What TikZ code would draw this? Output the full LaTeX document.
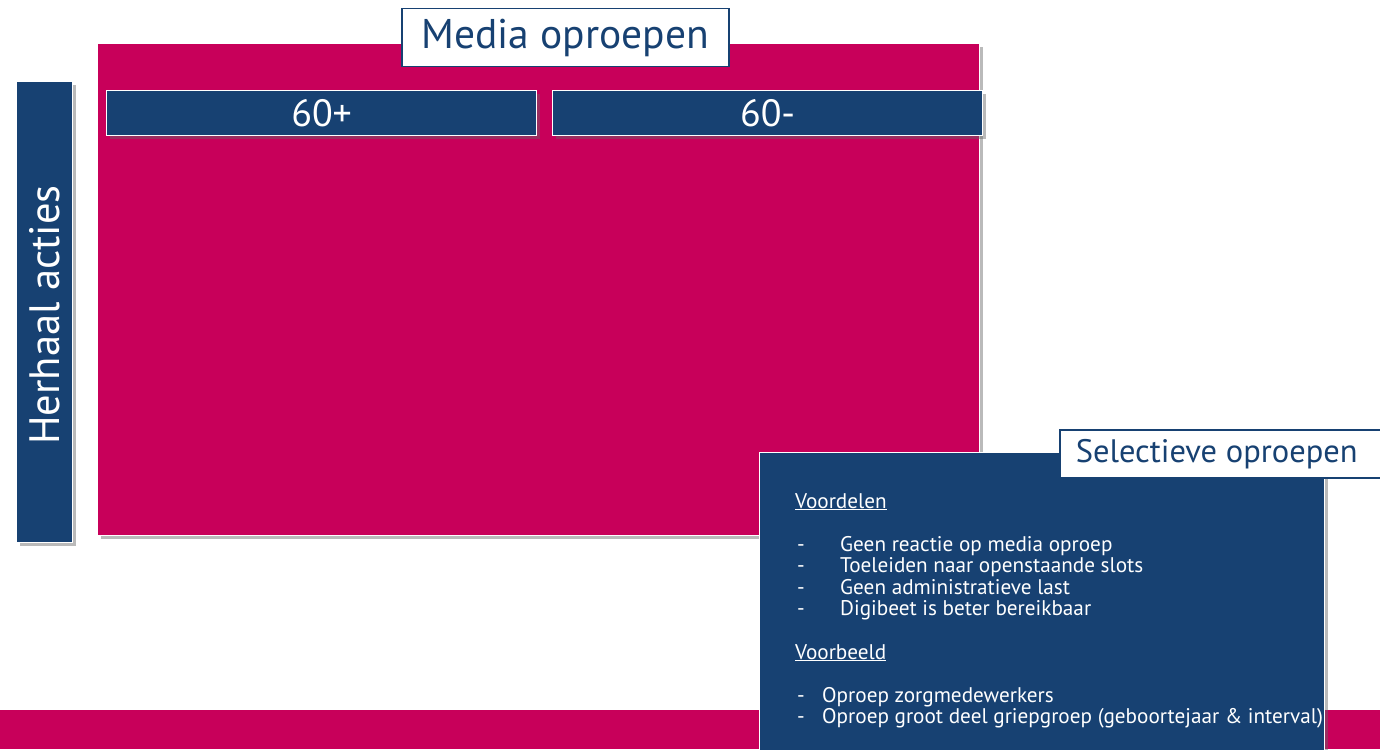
\documentclass[tikz,border=0pt]{standalone}
\usepackage{fontspec}
\setmainfont{PT Sans}
\usepackage{tikz}
\usetikzlibrary{positioning}
\usetikzlibrary{shadows}
\definecolor{rodeband}{HTML}{C8005A}
\definecolor{donkerblauw}{HTML}{174172}
\tikzset{my_shadow/.style={drop shadow={shadow xshift=3pt, shadow yshift=-3pt, opacity=0.45, fill=black!60}}}
\tikzset{my_panel/.style={rectangle, anchor=north west, inner sep=0pt, draw=white, line width=1.2pt, my_shadow}}
\tikzset{my_header/.style={rectangle, anchor=north west, inner sep=0pt, fill=white, draw=donkerblauw, line width=1.5pt, text=donkerblauw}}
\tikzset{my_agebox/.style={my_panel, fill=donkerblauw, text=white, font=\fontsize{38}{38}\selectfont}}
\tikzset{my_line/.style={anchor=base west, inner sep=0pt, text=white, font=\fontsize{21.2}{21.2}\selectfont}}

\begin{document}
\begin{tikzpicture}[x=1pt, y=-1pt]
    \useasboundingbox (0,0) rectangle (1380,749);
    %\draw[help lines, step=50] (0,0) grid (1380,749);
    \fill[rodeband] (0,710) rectangle (1380,749);

    \node[my_panel, fill=rodeband, minimum width=882pt, minimum height=492pt] (media) at (97,43) {};
    \node[my_header, minimum width=327pt, minimum height=58pt,
          font=\fontsize{41.5}{41.5}\selectfont] (mediatitle) at (401,8) {Media oproepen};

    \node[my_agebox, minimum width=430pt, minimum height=45pt] (plus) at (106,90) {60+};
    \node[my_agebox, minimum width=430pt, minimum height=45pt] (min) at (552,90) {60-};

    \node[my_panel, fill=donkerblauw, minimum width=56pt, minimum height=461pt] (herhaal) at (16,81) {};
    \node[rotate=90, text=white, font=\fontsize{42.5}{42.5}\selectfont] (herhaaltext) at ([yshift=-3pt]herhaal.center) {Herhaal acties};

    \node[my_panel, fill=donkerblauw, minimum width=565pt, minimum height=310pt] (selectief) at (759,452) {};
    \node[my_header, minimum width=330pt, minimum height=48pt,
          font=\fontsize{32.5}{32.5}\selectfont] (selectieftitle) at (1059,429) {\hspace{-16pt}Selectieve oproepen};

    % voordelen
    \node[my_line] (voordelen) at (795,508) {\underline{Voordelen}};
    \foreach \name/\txt [count=\i from 0] in {vA/Geen reactie op media oproep,
                                             vB/Toeleiden naar openstaande slots,
                                             vC/Geen administratieve last,
                                             vD/Digibeet is beter bereikbaar} {
        \node[my_line] (\name dash) at (797,551+21.5*\i) {-};
        \node[my_line] (\name) at (840,551+21.5*\i) {\txt};
    }

    % voorbeeld
    \node[my_line] (voorbeeld) at (795,659) {\underline{Voorbeeld}};
    \node[my_line] (bAdash) at (797,702) {-};
    \node[my_line] (bA) at (822,702) {Oproep zorgmedewerkers};
    \node[my_line] (bBdash) at (797,723.5) {-};
    \node[my_line] (bB) at (822,723.5) {Oproep groot deel griepgroep (geboortejaar \& interval)};
\end{tikzpicture}
\end{document}
